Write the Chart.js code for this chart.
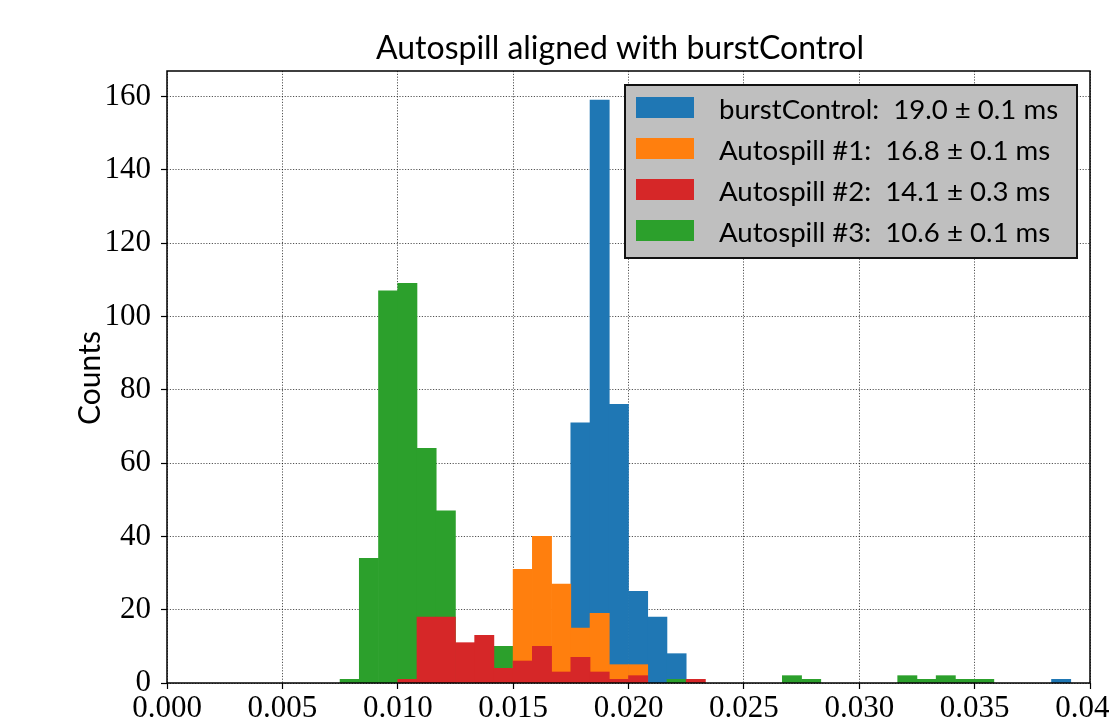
<!DOCTYPE html>
<html>
<head>
<meta charset="utf-8">
<script src="https://cdn.jsdelivr.net/npm/chart.js@4.4.1/dist/chart.umd.min.js"></script>
<style>
  html, body { margin: 0; padding: 0; background: #fff; }
  canvas { display: block; }
</style>
</head>
<body>
<canvas id="chart" width="1109" height="718"></canvas>
<script>
// histogram bins: 48 equal bins between 0 and 0.04 s
const binLow = 0;
const binHigh = 0.04;
const binCount = 48;

// counts per bin
const burstControl = [
  0, 0, 0, 0, 0, 0, 0, 0, 0, 0, 0, 0, 0, 0, 0, 0,
  0, 0, 0, 0, 0, 71, 159, 76, 25, 18, 8, 0, 0, 0, 0, 0,
  0, 0, 0, 0, 0, 0, 0, 0, 0, 0, 0, 0, 0, 0, 1, 0
];
const autospill1 = [
  0, 0, 0, 0, 0, 0, 0, 0, 0, 0, 0, 0, 0, 0, 0, 0,
  0, 0, 31, 40, 27, 15, 19, 5, 5, 0, 0, 0, 0, 0, 0, 0,
  0, 0, 0, 0, 0, 0, 0, 0, 0, 0, 0, 0, 0, 0, 0, 0
];
const autospill2 = [
  0, 0, 0, 0, 0, 0, 0, 0, 0, 0, 0, 0, 1, 18, 18, 11,
  13, 4, 6, 10, 3, 7, 3, 1, 2, 0, 0, 1, 0, 0, 0, 0,
  0, 0, 0, 0, 0, 0, 0, 0, 0, 0, 0, 0, 0, 0, 0, 0
];
const autospill3 = [
  0, 0, 0, 0, 0, 0, 0, 0, 0, 1, 34, 107, 109, 64, 47, 0,
  0, 10, 0, 0, 0, 0, 0, 0, 0, 0, 1, 0, 0, 0, 0, 0,
  2, 1, 0, 0, 0, 0, 2, 1, 2, 1, 1, 0, 0, 0, 0, 0
];

const seriesLabels = [
  "burstControl:  19.0 \u00b1 0.1 ms",
  "Autospill #1:  16.8 \u00b1 0.1 ms",
  "Autospill #2:  14.1 \u00b1 0.3 ms",
  "Autospill #3:  10.6 \u00b1 0.1 ms"
];
const seriesColors = ["#1f77b4", "#ff7f0e", "#d62728", "#2ca02c"];
// red on top, then orange, green, blue underneath
const seriesOrder = [3, 1, 0, 2];

const xTickValues = [0, 0.005, 0.010, 0.015, 0.020, 0.025, 0.030, 0.035, 0.040];
const yTickValues = [0, 20, 40, 60, 80, 100, 120, 140, 160];
const yMax = 159 * 1.05;

const binWidth = (binHigh - binLow) / binCount;
const toPoints = (counts) => counts.map((c, i) => ({ x: binLow + (i + 0.5) * binWidth, y: c > 0 ? c : null }));

const SANS = "Lato, 'Open Sans', sans-serif";
const SERIF = "'Liberation Serif', 'DejaVu Serif', serif";

const decorations = {
  id: "decorations",
  afterDraw(chart) {
    const { ctx, chartArea: a } = chart;
    ctx.save();

    // axes frame
    ctx.strokeStyle = "#000";
    ctx.lineWidth = 1.5;
    ctx.strokeRect(a.left, a.top, a.right - a.left, a.bottom - a.top);

    // title
    ctx.fillStyle = "#000";
    ctx.font = "32px " + SANS;
    ctx.textAlign = "center";
    ctx.textBaseline = "alphabetic";
    ctx.fillText("Autospill aligned with burstControl", 620, 59);

    // y axis label
    ctx.save();
    ctx.translate(100, 378);
    ctx.rotate(-Math.PI / 2);
    ctx.font = "30px " + SANS;
    ctx.fillText("Counts", 0, 0);
    ctx.restore();

    // legend
    ctx.fillStyle = "#bfbfbf";
    ctx.fillRect(625, 85, 452, 173);
    ctx.strokeStyle = "#111";
    ctx.lineWidth = 2;
    ctx.strokeRect(625, 85, 452, 173);
    ctx.font = "27.6px " + SANS;
    ctx.textAlign = "left";
    chart.data.datasets.forEach((ds, i) => {
      const cy = 107.5 + i * 41;
      ctx.fillStyle = ds.backgroundColor;
      ctx.fillRect(636, cy - 10.5, 58, 21);
      ctx.fillStyle = "#000";
      ctx.fillText(ds.label, 719, cy + 11);
    });

    ctx.restore();
  }
};

new Chart(document.getElementById("chart"), {
  type: "bar",
  data: {
    datasets: [burstControl, autospill1, autospill2, autospill3].map((counts, i) => ({
      label: seriesLabels[i],
      data: toPoints(counts),
      backgroundColor: seriesColors[i],
      borderWidth: 0,
      order: seriesOrder[i],
      grouped: false,
      barPercentage: 1,
      categoryPercentage: 1
    }))
  },
  options: {
    responsive: false,
    animation: false,
    layout: { padding: { left: 0, top: 71, right: 19, bottom: 0 } },
    scales: {
      x: {
        type: "linear",
        min: 0,
        max: 0.04,
        offset: false,
        z: 1,
        afterBuildTicks: (s) => { s.ticks = xTickValues.map((v) => ({ value: v })); },
        afterFit: (s) => { s.height = 35; s.paddingLeft = 0; s.paddingRight = 0; },
        ticks: {
          autoSkip: false,
          maxRotation: 0,
          padding: 1,
          color: "#000",
          font: { family: SERIF, size: 31 },
          callback: (v) => Number(v).toFixed(3)
        },
        grid: {
          offset: false,
          color: "rgba(0,0,0,0.75)",
          lineWidth: 0.9,
          tickLength: 6,
          tickColor: "#000",
          tickWidth: 1.2,
          tickBorderDash: []
        },
        border: { display: false, dash: [1.2, 1.6] }
      },
      y: {
        min: 0,
        max: yMax,
        z: 1,
        afterBuildTicks: (s) => { s.ticks = yTickValues.map((v) => ({ value: v })); },
        afterFit: (s) => { s.width = 167; s.paddingTop = 0; s.paddingBottom = 0; },
        ticks: {
          padding: 10,
          color: "#000",
          font: { family: SERIF, size: 31 },
          callback: (v) => String(v)
        },
        grid: {
          color: "rgba(0,0,0,0.75)",
          lineWidth: 0.9,
          tickLength: 6,
          tickColor: "#000",
          tickWidth: 1.2,
          tickBorderDash: []
        },
        border: { display: false, dash: [1.2, 1.6] }
      }
    },
    plugins: {
      legend: { display: false },
      title: { display: false },
      tooltip: { enabled: false }
    }
  },
  plugins: [decorations]
});
</script>
</body>
</html>
